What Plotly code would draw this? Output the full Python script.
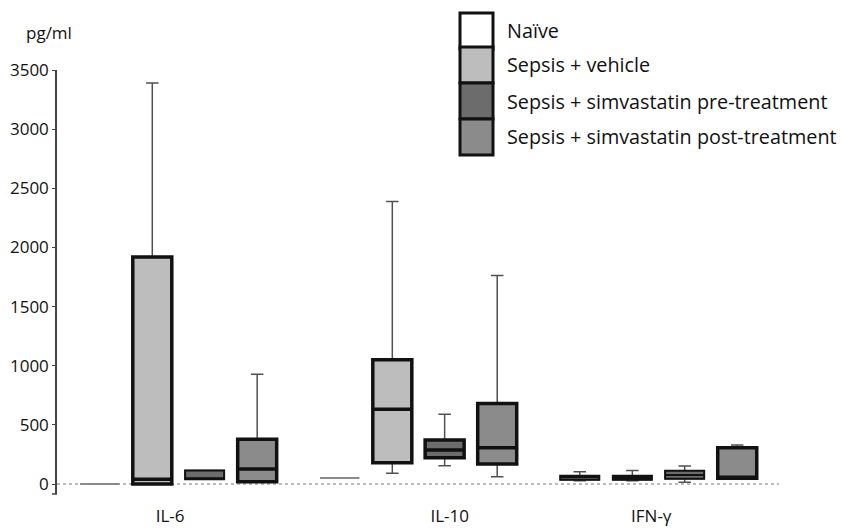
import plotly.graph_objects as go

# ---- data ----
categories = ["IL-6", "IL-10", "IFN-γ"]
groups = ["Naïve", "Sepsis + vehicle", "Sepsis + simvastatin pre-treatment",
          "Sepsis + simvastatin post-treatment"]

naive_q1 = [0, 50, 36]
naive_med = [0, 50, 55]
naive_q3 = [0, 50, 70]
naive_lo = [0, 50, 28]
naive_hi = [0, 50, 104]

vehicle_q1 = [0, 180, 36]
vehicle_med = [40, 632, 52]
vehicle_q3 = [1920, 1051, 70]
vehicle_lo = [0, 90, 28]
vehicle_hi = [3390, 2388, 115]

pre_q1 = [40, 222, 45]
pre_med = [40, 287, 76]
pre_q3 = [115, 371, 112]
pre_lo = [40, 154, 14]
pre_hi = [115, 590, 152]

post_q1 = [20, 169, 48]
post_med = [126, 306, 50]
post_q3 = [379, 680, 306]
post_lo = [20, 62, 48]
post_hi = [927, 1762, 329]

y_ticks = [0, 500, 1000, 1500, 2000, 2500, 3000, 3500]
label_pos = [-0.035, 1.13, 1.97]

series = [
    (naive_q1, naive_med, naive_q3, naive_lo, naive_hi),
    (vehicle_q1, vehicle_med, vehicle_q3, vehicle_lo, vehicle_hi),
    (pre_q1, pre_med, pre_q3, pre_lo, pre_hi),
    (post_q1, post_med, post_q3, post_lo, post_hi),
]

# ---- style ----
fills = ["#ffffff", "#bdbdbd", "#6c6c6c", "#8b8b8b"]
offsets = [-0.328, -0.109, 0.109, 0.328]
box_w = 0.1625
FONT = "Open Sans"

fig = go.Figure()

for g, (q1, med, q3, lo, hi) in enumerate(series):
    for c in range(len(categories)):
        x = [c + offsets[g]]
        # whiskers (thin, grey)
        fig.add_trace(go.Box(
            x=x, q1=[q1[c]], median=[med[c]], q3=[q3[c]],
            lowerfence=[lo[c]], upperfence=[hi[c]],
            width=box_w, whiskerwidth=0.32,
            line=dict(color="#505050", width=1.5),
            fillcolor="rgba(0,0,0,0)", boxpoints=False,
            showlegend=False, hoverinfo="skip"))
        span = q3[c] - q1[c]
        if span == 0:
            lc, lw = "#8a8a8a", 2
        elif span < 130:
            lc, lw = "#111111", 2
        else:
            lc, lw = "#111111", 3.5
        # box (thick black)
        fig.add_trace(go.Box(
            x=x, q1=[q1[c]], median=[med[c]], q3=[q3[c]],
            lowerfence=[q1[c]], upperfence=[q3[c]],
            width=box_w, whiskerwidth=0,
            line=dict(color=lc, width=lw),
            fillcolor=fills[g], boxpoints=False,
            name=groups[g], showlegend=False, hoverinfo="skip"))

# zero line (dotted)
fig.add_shape(type="line", xref="paper", yref="y", x0=0, x1=1, y0=0, y1=0,
              line=dict(color="#777777", width=1, dash="dot"), layer="below")
# small hook at the bottom of the y axis
fig.add_shape(type="line", xref="paper", yref="paper", x0=-5 / 722, x1=0,
              y0=0, y1=0, line=dict(color="#444444", width=1.5))

# legend drawn manually
leg_x0, leg_x1 = (460 - 57) / 722, (493 - 57) / 722
leg_tops = [13, 47, 83, 119]
leg_h = 36
for g in range(len(groups)):
    yt = (494 - leg_tops[g]) / 424
    yb = (494 - leg_tops[g] - leg_h) / 424
    fig.add_shape(type="rect", xref="paper", yref="paper",
                  x0=leg_x0, x1=leg_x1, y0=yb, y1=yt,
                  fillcolor=fills[g], line=dict(color="#111111", width=3))
    fig.add_annotation(xref="paper", yref="paper", x=(505 - 57) / 722,
                       y=(yt + yb) / 2, text=groups[g], showarrow=False,
                       xanchor="left", yanchor="middle",
                       font=dict(family=FONT, size=19.8, color="#111111"))

fig.add_annotation(xref="paper", yref="paper", x=(49 - 57) / 722,
                   y=(494 - 32) / 424, text="pg/ml", showarrow=False,
                   xanchor="center", yanchor="middle",
                   font=dict(family=FONT, size=17, color="#111111"))

fig.update_layout(
    width=841, height=530,
    margin=dict(l=57, r=62, t=70, b=36),
    paper_bgcolor="white", plot_bgcolor="white",
    boxmode="overlay",
    font=dict(family=FONT, size=17, color="#111111"),
    xaxis=dict(range=[-0.506, 2.502], tickvals=label_pos, ticktext=categories,
               showline=False, showgrid=False, zeroline=False, ticks="",
               ticklabelstandoff=10, tickfont=dict(size=17), automargin=False),
    yaxis=dict(range=[-84.5, 3500], tickvals=y_ticks, showgrid=False,
               zeroline=False, showline=True, linecolor="#444444", linewidth=1.5,
               ticks="outside", ticklen=3, tickcolor="#444444",
               tickfont=dict(size=17), automargin=False),
)

fig.write_html("out.html")
